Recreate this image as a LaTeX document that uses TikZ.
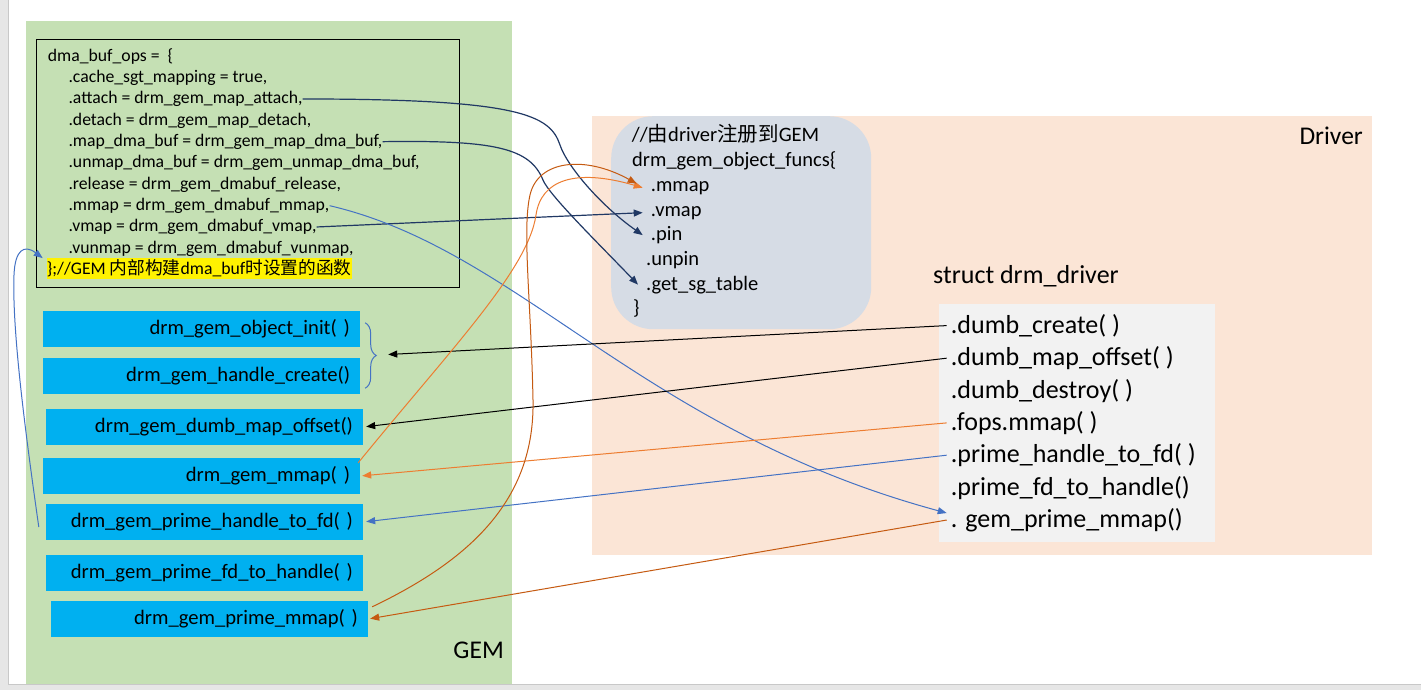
\documentclass[tikz,border=0pt]{standalone}
\usepackage{fontspec}
\setmainfont{Carlito}
\newfontfamily\cjk{Noto Sans CJK SC}
\usetikzlibrary{positioning,calc,arrows.meta,decorations.pathreplacing}
\definecolor{gemgreen}{HTML}{C5E0B4}
\definecolor{drvpeach}{HTML}{FBE5D6}
\definecolor{funcgrey}{HTML}{D6DCE5}
\definecolor{drvgrey}{HTML}{F2F2F2}
\definecolor{gemblue}{HTML}{00B0F0}
\definecolor{linknavy}{HTML}{203864}
\definecolor{linkblue}{HTML}{4472C4}
\definecolor{linkorange}{HTML}{ED7D31}
\definecolor{linkrust}{HTML}{C55A11}
\definecolor{framegrey}{HTML}{E6E6E6}
\definecolor{frameline}{HTML}{C8C8C8}
\newcommand{\codesize}{\fontsize{17.7pt}{21pt}\selectfont}
\newcommand{\boxsize}{\fontsize{20.6pt}{24pt}\selectfont}
\newcommand{\funcsize}{\fontsize{20.5pt}{24pt}\selectfont}
\newcommand{\drvsize}{\fontsize{26pt}{31pt}\selectfont}
\newcommand{\labelsize}{\fontsize{25.5pt}{30pt}\selectfont}
\tikzstyle{panel} = [rectangle, anchor=north west, inner sep=0pt]
\tikzstyle{codeline} = [anchor=base west, inner sep=0pt, font=\codesize]
\tikzstyle{funcline} = [anchor=base west, inner xsep=8pt, inner ysep=0pt, font=\funcsize]
\tikzstyle{drvline} = [anchor=base west, inner xsep=4pt, inner ysep=0pt, font=\drvsize]
\tikzstyle{gemfn} = [rectangle, fill=gemblue, minimum height=36pt, text width=297pt, align=right, inner xsep=10pt, inner ysep=0pt, text height=15pt, text depth=4pt, font=\boxsize]
\tikzstyle{link} = [-{Triangle[length=9pt,width=7pt]}, line width=1pt]
\tikzstyle{bracelink} = [linkblue, line width=1pt, decorate, decoration={brace, amplitude=11pt}]

\begin{document}
\begin{tikzpicture}[x=1pt,y=-1pt]
    \useasboundingbox (0,0) rectangle (1421,690);
    \fill[white] (0,0) rectangle (1421,690);
    \fill[framegrey] (0,0) rectangle (8,690);
    \fill[framegrey] (0,685) rectangle (1421,690);
    \draw[frameline] (8.5,0) -- (8.5,684.5) -- (1421,684.5);

    % panels
    \node (gem) [panel, fill=gemgreen, minimum width=486pt, minimum height=663pt] at (26,21) {};
    \node (drv) [panel, fill=drvpeach, minimum width=780pt, minimum height=438.5pt] at (592,116) {};
    \node (gemlabel) [anchor=base east, inner sep=0pt, font=\labelsize] at (504,658) {GEM};
    \node (drvlabel) [anchor=base east, inner sep=0pt, font=\labelsize] at (1363,145) {Driver};

    % dma_buf_ops
    \node (opsbox) [panel, draw, line width=1pt, minimum width=422.4pt, minimum height=248pt] at (36.3,39.3) {};
    \node (opshead) [codeline] at (47.7,61.7) {dma\_buf\_ops = \ \{};
    \node (cache) [codeline] at (68.3,82.3) {.cache\_sgt\_mapping = true,};
    \node (attach) [codeline] at (68.3,103.6) {.attach = drm\_gem\_map\_attach,};
    \node (detach) [codeline] at (68.3,125) {.detach = drm\_gem\_map\_detach,};
    \node (mapdma) [codeline] at (68.3,146.3) {.map\_dma\_buf = drm\_gem\_map\_dma\_buf,};
    \node (unmapdma) [codeline] at (68.3,167.6) {.unmap\_dma\_buf = drm\_gem\_unmap\_dma\_buf,};
    \node (release) [codeline] at (68.3,189) {.release = drm\_gem\_dmabuf\_release,};
    \node (dmmap) [codeline] at (68.3,210.3) {.mmap = drm\_gem\_dmabuf\_mmap,};
    \node (dvmap) [codeline] at (68.3,231.6) {.vmap = drm\_gem\_dmabuf\_vmap,};
    \node (dvunmap) [codeline] at (68.3,253) {.vunmap = drm\_gem\_dmabuf\_vunmap,};
    \node (gemnote) [codeline, fill=yellow, text height=16pt, text depth=5pt] at (46.7,274.3) {\};//GEM {\cjk 内部构建}dma\_buf{\cjk 时设置的函数}};

    % GEM functions
    \node (objinit) [gemfn] at (201.5,329) {drm\_gem\_object\_init( )};
    \node (hcreate) [gemfn] at (201.5,376) {drm\_gem\_handle\_create()};
    \node (dumbmap) [gemfn] at (204.5,427) {drm\_gem\_dumb\_map\_offset()};
    \node (gemmmap) [gemfn] at (201.5,476) {drm\_gem\_mmap( )};
    \node (h2fd) [gemfn] at (204.5,522) {drm\_gem\_prime\_handle\_to\_fd( )};
    \node (fd2h) [gemfn] at (204.5,573) {drm\_gem\_prime\_fd\_to\_handle( )};
    \node (primemmap) [gemfn] at (209.5,619) {drm\_gem\_prime\_mmap( )};
    \draw [bracelink] ($(objinit.north east)+(5,12)$) -- ($(hcreate.south east)+(5,-6)$);
    \coordinate (bracetip) at ($(objinit.east)!0.5!(hcreate.east)+(28,2)$);

    % drm_gem_object_funcs
    \node (funcbox) [panel, fill=funcgrey, rounded corners=42pt, minimum width=260pt, minimum height=213pt] at (611,116) {};
    \node (fcomment) [funcline] at (623.7,141.5) {//{\cjk 由}driver{\cjk 注册到}GEM};
    \node (fhead) [funcline] at (624,166) {drm\_gem\_object\_funcs\{};
    \node (fmmap) [funcline] at (642.7,191) {.mmap};
    \node (fvmap) [funcline] at (642.7,216) {.vmap};
    \node (fpin) [funcline] at (642.7,240.5) {.pin};
    \node (funpin) [funcline] at (638,265.5) {.unpin};
    \node (fgetsg) [funcline] at (638,290) {.get\_sg\_table};
    \node (fclose) [funcline] at (625,314) {\}};

    % struct drm_driver
    \node (drvtitle) [anchor=base west, inner sep=0pt, font=\drvsize] at (933,283) {struct drm\_driver};
    \node (drvbox) [panel, fill=drvgrey, minimum width=276pt, minimum height=237.7pt] at (939,304) {};
    \node (dcreate) [drvline] at (946.7,333.3) {.dumb\_create( )};
    \node (dmapoff) [drvline] at (946.7,365.6) {.dumb\_map\_offset( )};
    \node (ddestroy) [drvline] at (946.7,398) {.dumb\_destroy( )};
    \node (dfops) [drvline] at (946.7,430.3) {.fops.mmap( )};
    \node (dh2fd) [drvline] at (946.7,462.6) {.prime\_handle\_to\_fd( )};
    \node (dfd2h) [drvline] at (946.7,495) {.prime\_fd\_to\_handle()};
    \node (dgpmmap) [drvline] at (946.7,527.3) {. gem\_prime\_mmap()};

    % connectors
    \draw [link, linknavy, line width=1.2pt] (attach.east) .. controls (520,99) and (550,115) .. (560,145) .. controls (567,166) and (600,205) .. (fpin.west);
    \draw [link, linknavy, line width=1.2pt] (mapdma.east) .. controls (495,140) and (530,148) .. (543,180) .. controls (549,195) and (600,245) .. (fgetsg.west);
    \draw [link, linknavy, line width=1.2pt] (dvmap.east) -- (fvmap.west);
    \draw [link, linkblue] (dmmap.east) .. controls (520,250) and (640,430) .. ($(dgpmmap.west)+(0,-7)$);
    \draw [link, black] (dcreate.west) -- (bracetip);
    \draw [link, black, shorten >=3pt] (dmapoff.west) -- (dumbmap.east);
    \draw [link, linkorange, shorten >=2pt] (dfops.west) -- (gemmmap.east);
    \draw [link, linkblue, shorten >=3pt] (dh2fd.west) -- (h2fd.east);
    \draw [link, linkrust, shorten >=2pt] (dgpmmap.west) -- (primemmap.east);
    \draw [link, linkorange] ($(gemmmap.north east)+(-2,5)$) .. controls (450,350) and (528,270) .. (536,215) .. controls (541,180) and (575,168) .. (fmmap.west);
    \draw [link, linkrust] ($(primemmap.north east)+(4,6)$) .. controls (470,560) and (535,500) .. (533,400) .. controls (531,300) and (522,230) .. (530,195) .. controls (538,160) and (585,155) .. ($(fmmap.west)+(-6,-4)$);
    \draw [link, linkblue] ($(h2fd.west)+(-7,5)$) .. controls (25,430) and (12,330) .. (14,275) .. controls (15,250) and (24,244) .. ($(gemnote.north west)+(-4,0)$);
\end{tikzpicture}
\end{document}
